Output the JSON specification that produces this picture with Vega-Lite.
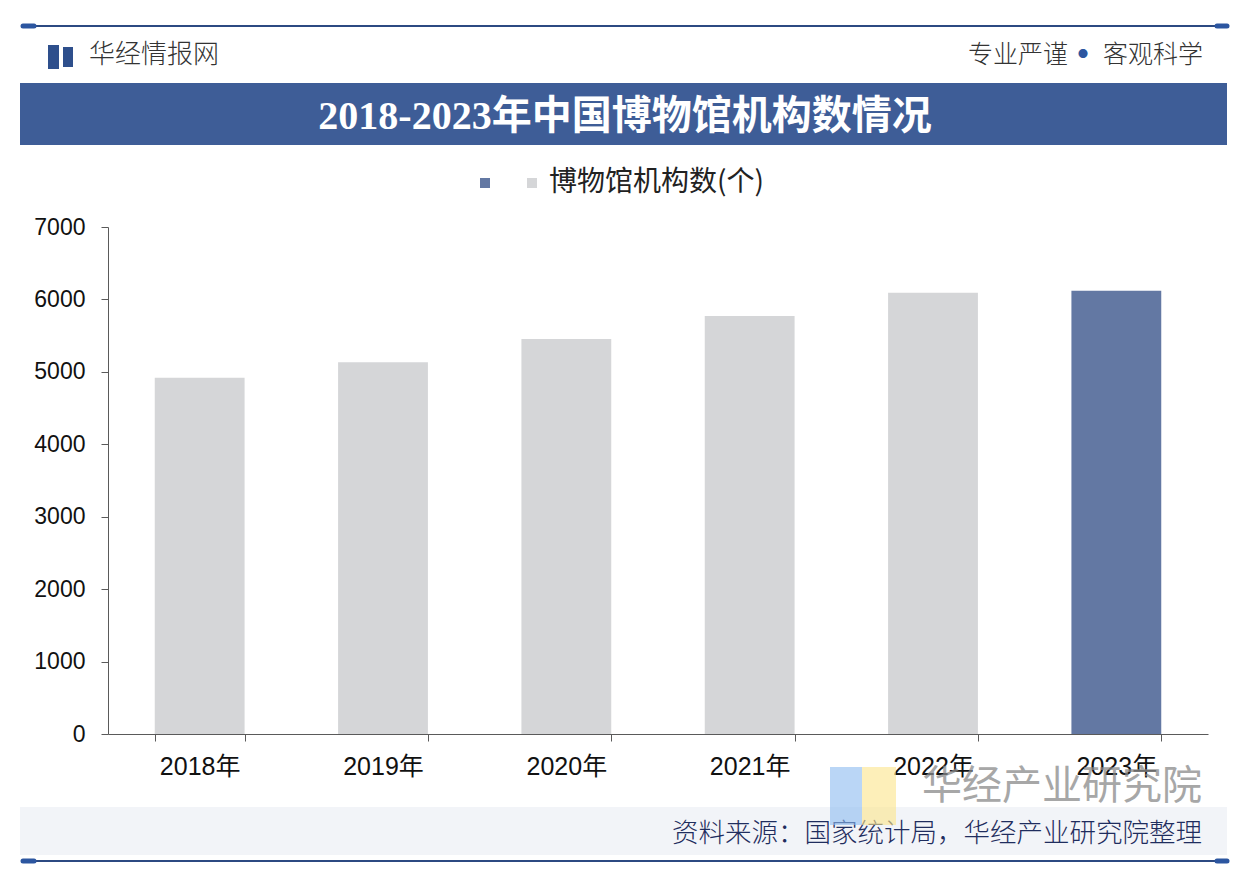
{
  "$schema": "https://vega.github.io/schema/vega-lite/v6.json",
  "width": 1100,
  "height": 507,
  "autosize": "none",
  "padding": {"left": 108, "top": 227, "right": 36, "bottom": 146},
  "background": "#ffffff",
  "config": {
    "view": {"stroke": null},
    "font": "Noto Sans CJK SC"
  },
  "layer": [
    {
      "data": {"values": [{}]},
      "mark": {"type": "rect", "color": "#f2f4f8"},
      "encoding": {"x": {"value": -88}, "x2": {"value": 1119}, "y": {"value": 580}, "y2": {"value": 628}}
    },
    {
      "data": {"values": [{}]},
      "mark": {"type": "rect", "color": "#3e5d97"},
      "encoding": {"x": {"value": -88}, "x2": {"value": 1119}, "y": {"value": -144}, "y2": {"value": -82}}
    },
    {
      "data": {"values": [{}]},
      "mark": {"type": "rule", "color": "#2c4a82", "strokeWidth": 2},
      "encoding": {"x": {"value": -87}, "x2": {"value": 1121}, "y": {"value": -201}}
    },
    {
      "data": {"values": [{}]},
      "mark": {"type": "rule", "color": "#2c4a82", "strokeWidth": 2},
      "encoding": {"x": {"value": -87}, "x2": {"value": 1121}, "y": {"value": 634}}
    },
    {
      "data": {"values": [{}]},
      "mark": {"type": "rule", "color": "#2c56a0", "strokeWidth": 5, "strokeCap": "round"},
      "encoding": {"x": {"value": -85}, "x2": {"value": -74}, "y": {"value": -201}}
    },
    {
      "data": {"values": [{}]},
      "mark": {"type": "rule", "color": "#2c56a0", "strokeWidth": 5, "strokeCap": "round"},
      "encoding": {"x": {"value": 1109}, "x2": {"value": 1119}, "y": {"value": -201}}
    },
    {
      "data": {"values": [{}]},
      "mark": {"type": "rule", "color": "#2c56a0", "strokeWidth": 5, "strokeCap": "round"},
      "encoding": {"x": {"value": -85}, "x2": {"value": -74}, "y": {"value": 634}}
    },
    {
      "data": {"values": [{}]},
      "mark": {"type": "rule", "color": "#2c56a0", "strokeWidth": 5, "strokeCap": "round"},
      "encoding": {"x": {"value": 1109}, "x2": {"value": 1119}, "y": {"value": 634}}
    },
    {
      "data": {"values": [{}]},
      "mark": {"type": "rect", "color": "#2e4f8c"},
      "encoding": {"x": {"value": -60}, "x2": {"value": -49}, "y": {"value": -182}, "y2": {"value": -158}}
    },
    {
      "data": {"values": [{}]},
      "mark": {"type": "rect", "color": "#2e4f8c"},
      "encoding": {"x": {"value": -45}, "x2": {"value": -35}, "y": {"value": -180}, "y2": {"value": -160}}
    },
    {
      "data": {"values": [{"t": "华经情报网"}]},
      "mark": {"type": "text", "align": "left", "baseline": "middle", "fontSize": 26, "color": "#333333", "font": "Noto Sans CJK SC", "fontWeight": 300},
      "encoding": {"text": {"field": "t"}, "x": {"value": -19}, "y": {"value": -172}}
    },
    {
      "data": {"values": [{"t": "客观科学"}]},
      "mark": {"type": "text", "align": "right", "baseline": "middle", "fontSize": 25, "color": "#333333", "font": "Noto Sans CJK SC", "fontWeight": 300},
      "encoding": {"text": {"field": "t"}, "x": {"value": 1095}, "y": {"value": -172}}
    },
    {
      "data": {"values": [{"t": "●"}]},
      "mark": {"type": "text", "align": "center", "baseline": "middle", "fontSize": 10, "color": "#2c56a0"},
      "encoding": {"text": {"field": "t"}, "x": {"value": 975}, "y": {"value": -172}}
    },
    {
      "data": {"values": [{"t": "专业严谨"}]},
      "mark": {"type": "text", "align": "right", "baseline": "middle", "fontSize": 25, "color": "#333333", "font": "Noto Sans CJK SC", "fontWeight": 300},
      "encoding": {"text": {"field": "t"}, "x": {"value": 960}, "y": {"value": -172}}
    },
    {
      "data": {"values": [{"t": "2018-2023年中国博物馆机构数情况"}]},
      "mark": {"type": "text", "align": "center", "baseline": "middle", "fontSize": 40, "fontWeight": "bold", "color": "#ffffff", "font": "Liberation Serif, Noto Sans CJK SC"},
      "encoding": {"text": {"field": "t"}, "x": {"value": 517}, "y": {"value": -110}}
    },
    {
      "data": {"values": [{"t": "资料来源：国家统计局，华经产业研究院整理"}]},
      "mark": {"type": "text", "align": "right", "baseline": "middle", "fontSize": 26.5, "color": "#1f2d5e", "font": "Noto Sans CJK SC", "fontWeight": 300},
      "encoding": {"text": {"field": "t"}, "x": {"value": 1094}, "y": {"value": 607}}
    },
    {
      "data": {"values": [{}]},
      "mark": {"type": "rect", "color": "#8cbaf0", "opacity": 0.6},
      "encoding": {"x": {"value": 722}, "x2": {"value": 754}, "y": {"value": 540}, "y2": {"value": 598}}
    },
    {
      "data": {"values": [{}]},
      "mark": {"type": "rect", "color": "#fbe48a", "opacity": 0.6},
      "encoding": {"x": {"value": 754}, "x2": {"value": 788}, "y": {"value": 540}, "y2": {"value": 598}}
    },
    {
      "data": {"values": [{"t": "华经产业研究院"}]},
      "mark": {"type": "text", "align": "right", "baseline": "middle", "fontSize": 40, "color": "#8a8a8a", "opacity": 0.75, "font": "Noto Sans CJK SC"},
      "encoding": {"text": {"field": "t"}, "x": {"value": 1094}, "y": {"value": 560}}
    },
    {
      "data": {
        "values": [
          {"year": "2018年", "count": 4918, "kind": "normal"},
          {"year": "2019年", "count": 5132, "kind": "normal"},
          {"year": "2020年", "count": 5452, "kind": "normal"},
          {"year": "2021年", "count": 5772, "kind": "normal"},
          {"year": "2022年", "count": 6091, "kind": "normal"},
          {"year": "2023年", "count": 6120, "kind": "hl"}
        ]
      },
      "mark": {"type": "bar"},
      "encoding": {
        "x": {
          "field": "year", "type": "nominal", "title": null,
          "scale": {"paddingInner": 0.51, "paddingOuter": 0.255},
          "axis": {
            "labelAngle": 0, "labelFont": "Liberation Sans, Noto Sans CJK SC", "labelFontSize": 25,
            "labelColor": "#111111", "labelPadding": 13, "tickBand": "extent", "tickSize": 7,
            "domainColor": "#5a5a5a", "tickColor": "#5a5a5a", "grid": false
          }
        },
        "y": {
          "field": "count", "type": "quantitative", "title": null,
          "scale": {"domain": [0, 7000]},
          "axis": {
            "values": [0, 1000, 2000, 3000, 4000, 5000, 6000, 7000], "format": "d",
            "labelFont": "Liberation Sans", "labelFontSize": 23,
            "labelColor": "#111111", "labelPadding": 16, "tickSize": 7,
            "domainColor": "#5a5a5a", "tickColor": "#5a5a5a", "grid": false
          }
        },
        "color": {
          "field": "kind", "type": "nominal",
          "scale": {"domain": ["hl", "normal"], "range": ["#6378a3", "#d5d6d8"]},
          "legend": {
            "title": null, "orient": "none", "direction": "horizontal",
            "legendX": 363, "legendY": -58, "padding": 0,
            "symbolType": "square", "symbolSize": 100, "symbolStrokeWidth": 0,
            "labelExpr": "datum.label == 'normal' ? '博物馆机构数(个)' : ''",
            "labelFont": "Noto Sans CJK SC", "labelFontSize": 28, "labelColor": "#222222",
            "labelOffset": 3, "columnPadding": 16, "labelLimit": 400
          }
        }
      }
    }
  ]
}
